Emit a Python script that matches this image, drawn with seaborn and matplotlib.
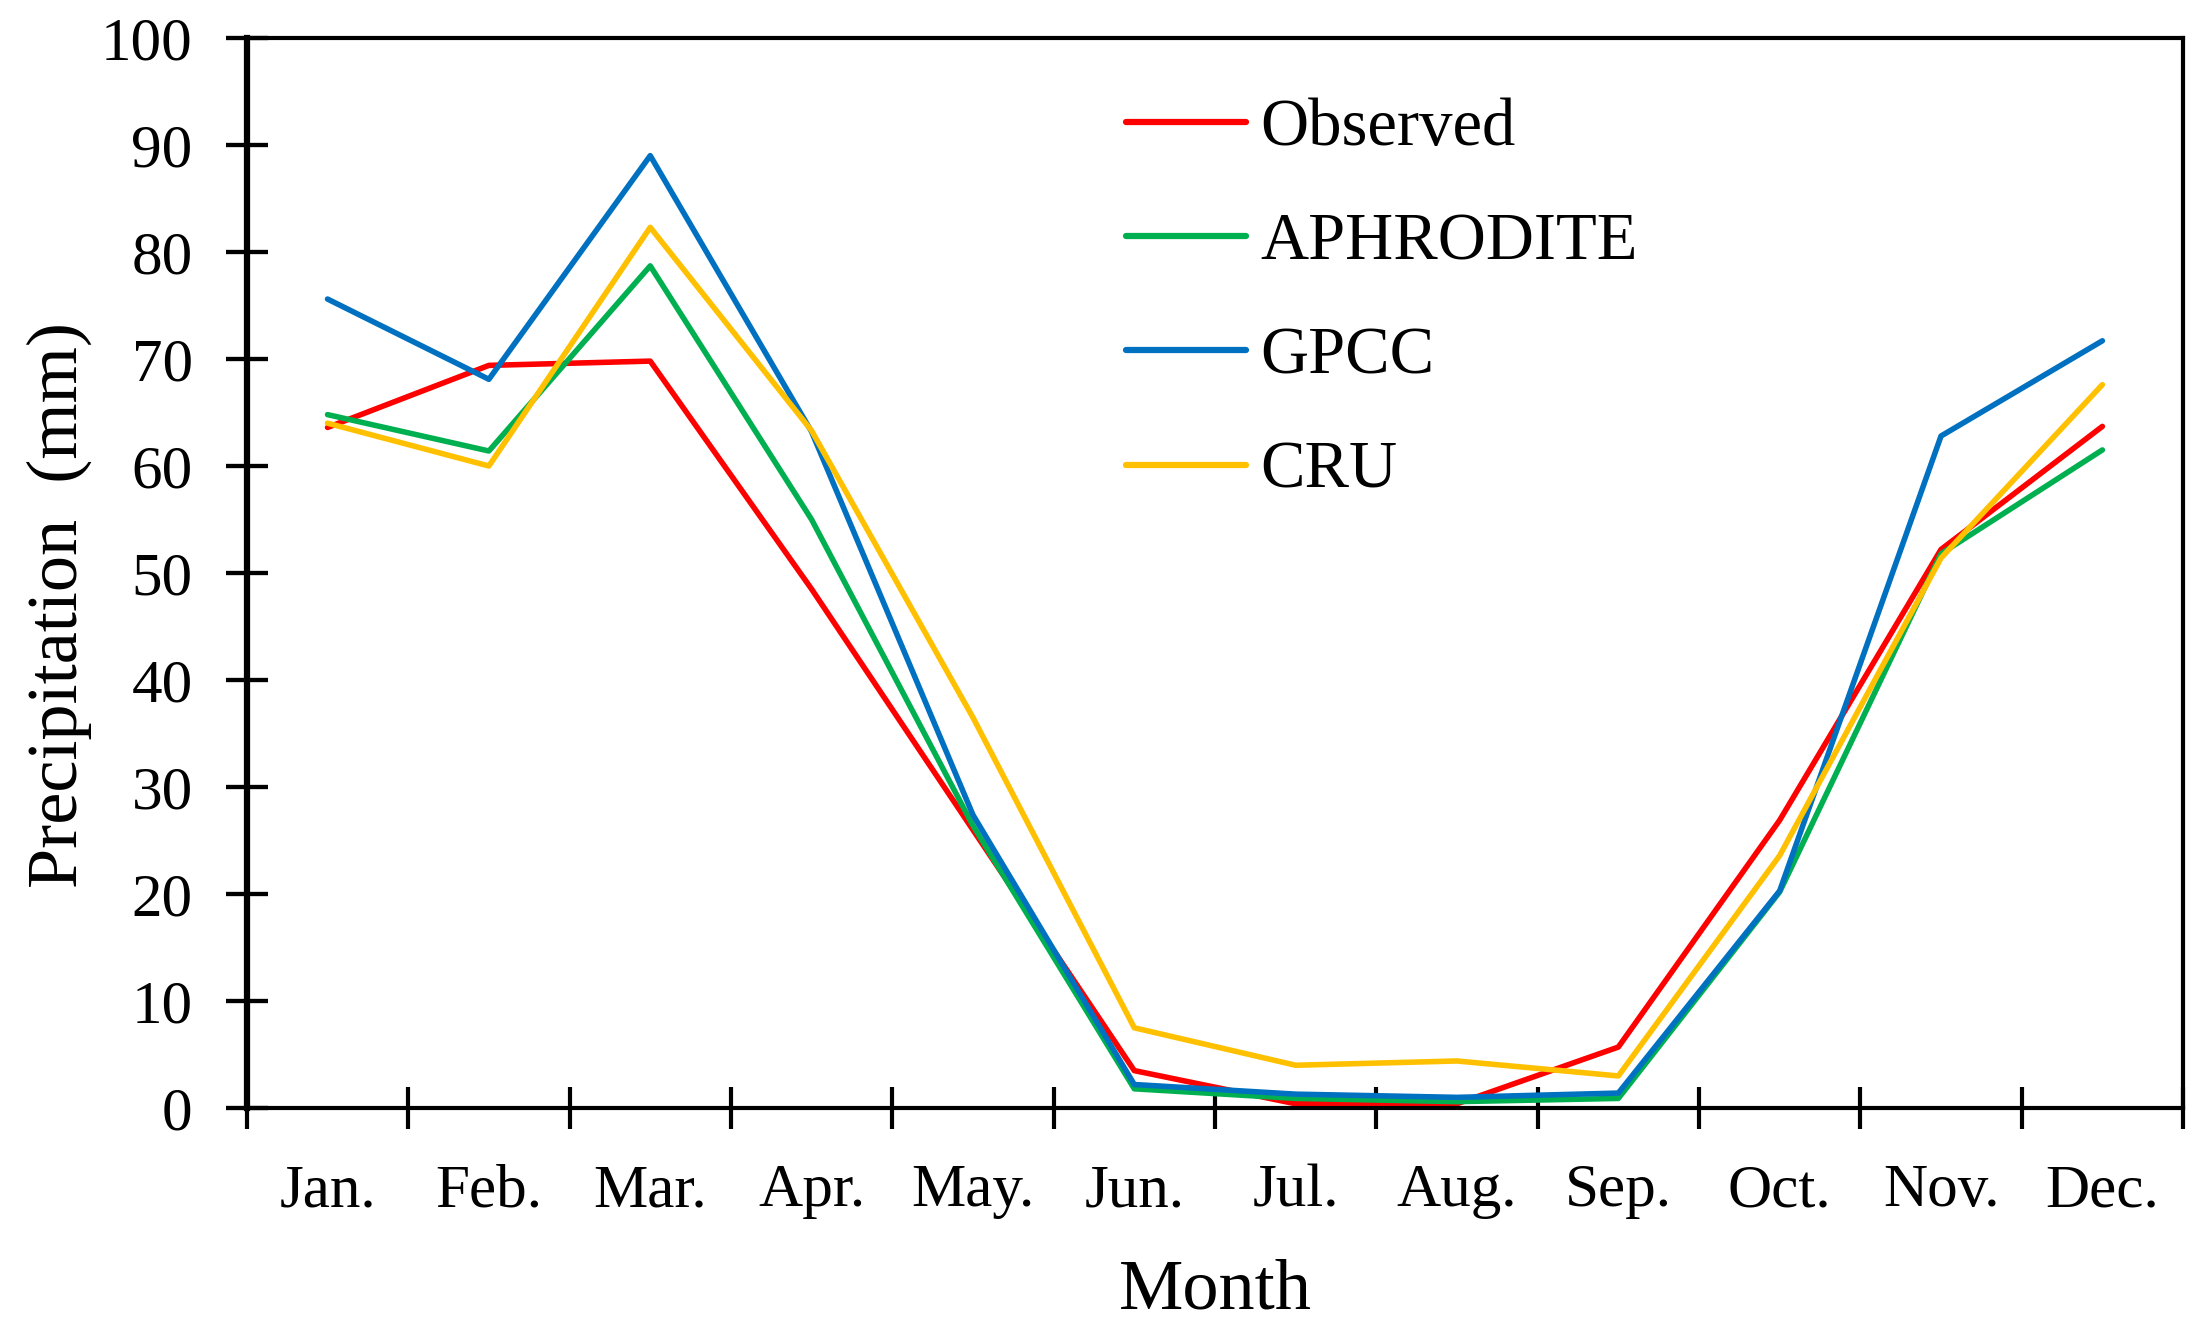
import pandas as pd
import matplotlib
matplotlib.use("Agg")
import matplotlib.pyplot as plt
import matplotlib.transforms as mtransforms
import seaborn as sns
from matplotlib.ticker import FixedLocator

months = ["Jan.", "Feb.", "Mar.", "Apr.", "May.", "Jun.", "Jul.", "Aug.", "Sep.", "Oct.", "Nov.", "Dec."]
observed = [63.6, 69.4, 69.8, 48.5, 26.0, 3.5, 0.4, 0.4, 5.7, 26.9, 52.2, 63.7]
aphrodite = [64.8, 61.4, 78.7, 55.0, 26.4, 1.8, 0.9, 0.6, 0.9, 20.2, 51.8, 61.5]
gpcc = [75.6, 68.1, 89.0, 63.2, 27.4, 2.2, 1.3, 1.0, 1.4, 20.3, 62.8, 71.7]
cru = [64.0, 60.0, 82.3, 63.3, 36.5, 7.5, 4.0, 4.4, 3.0, 23.6, 51.4, 67.6]
yticks = list(range(0, 101, 10))

series = ["Observed", "APHRODITE", "GPCC", "CRU"]
colors = ["#FF0000", "#00B050", "#0070C0", "#FFC000"]

# long format table for seaborn
rows = []
for name, vals in zip(series, [observed, aphrodite, gpcc, cru]):
    for m, v in zip(months, vals):
        rows.append({"Month": m, "Precipitation": v, "Source": name})
df = pd.DataFrame(rows)

sns.set_style("ticks")
plt.rcParams.update({
    "font.family": ["Liberation Serif", "DejaVu Serif"],
    "text.color": "black",
    "axes.labelcolor": "black",
    "axes.edgecolor": "black",
    "xtick.color": "black",
    "ytick.color": "black",
    "ytick.left": True,
    "ytick.direction": "inout",
    "ytick.major.size": 30,
    "ytick.major.width": 3,
    "ytick.major.pad": 24,
    "ytick.labelsize": 44,
    "xtick.minor.size": 30,
    "xtick.minor.width": 3,
    "xtick.direction": "inout",
})

fig = plt.figure(figsize=(22.04, 13.31), dpi=100)
ax = fig.add_axes([0.112, 0.1675, 0.8785, 0.804])

sns.lineplot(data=df, x="Month", y="Precipitation", hue="Source",
             palette=dict(zip(series, colors)), hue_order=series,
             sort=False, linewidth=4, ax=ax)

ax.set_xlim(-0.5, len(months) - 0.5)
ax.set_ylim(0, 100)
ax.set_yticks(yticks)

# month labels at centres, tick marks at the boundaries
ax.set_xticks(range(len(months)))
ax.set_xticklabels(months)
ax.xaxis.set_minor_locator(FixedLocator([i - 0.5 for i in range(len(months) + 1)]))
ax.tick_params(axis="x", which="major", length=0, pad=40, labelsize=44)
ax.tick_params(axis="x", which="minor", bottom=True)

# y tick marks crossing the left axis (drawn explicitly so they always show)
trans = mtransforms.blended_transform_factory(ax.transAxes, ax.transData)
ax.hlines(yticks, -0.0108, 0.0108, transform=trans, colors="black",
          linewidth=3, clip_on=False, zorder=3)

for s in ax.spines.values():
    s.set_linewidth(3)
ax.spines["left"].set_linewidth(4.5)

ax.set_xlabel("Month", fontsize=52, labelpad=28)
ax.set_ylabel("Precipitation  (mm)", fontsize=52)
ax.yaxis.set_label_coords(-0.08, 0.47)

leg = ax.legend(loc="upper left", bbox_to_anchor=(0.423, 1.0), frameon=False,
                fontsize=48, handlelength=1.8, handletextpad=0.22, labelspacing=0.8)
for line in leg.get_lines():
    line.set_linewidth(4.5)

fig.savefig("out.png", dpi=100)
